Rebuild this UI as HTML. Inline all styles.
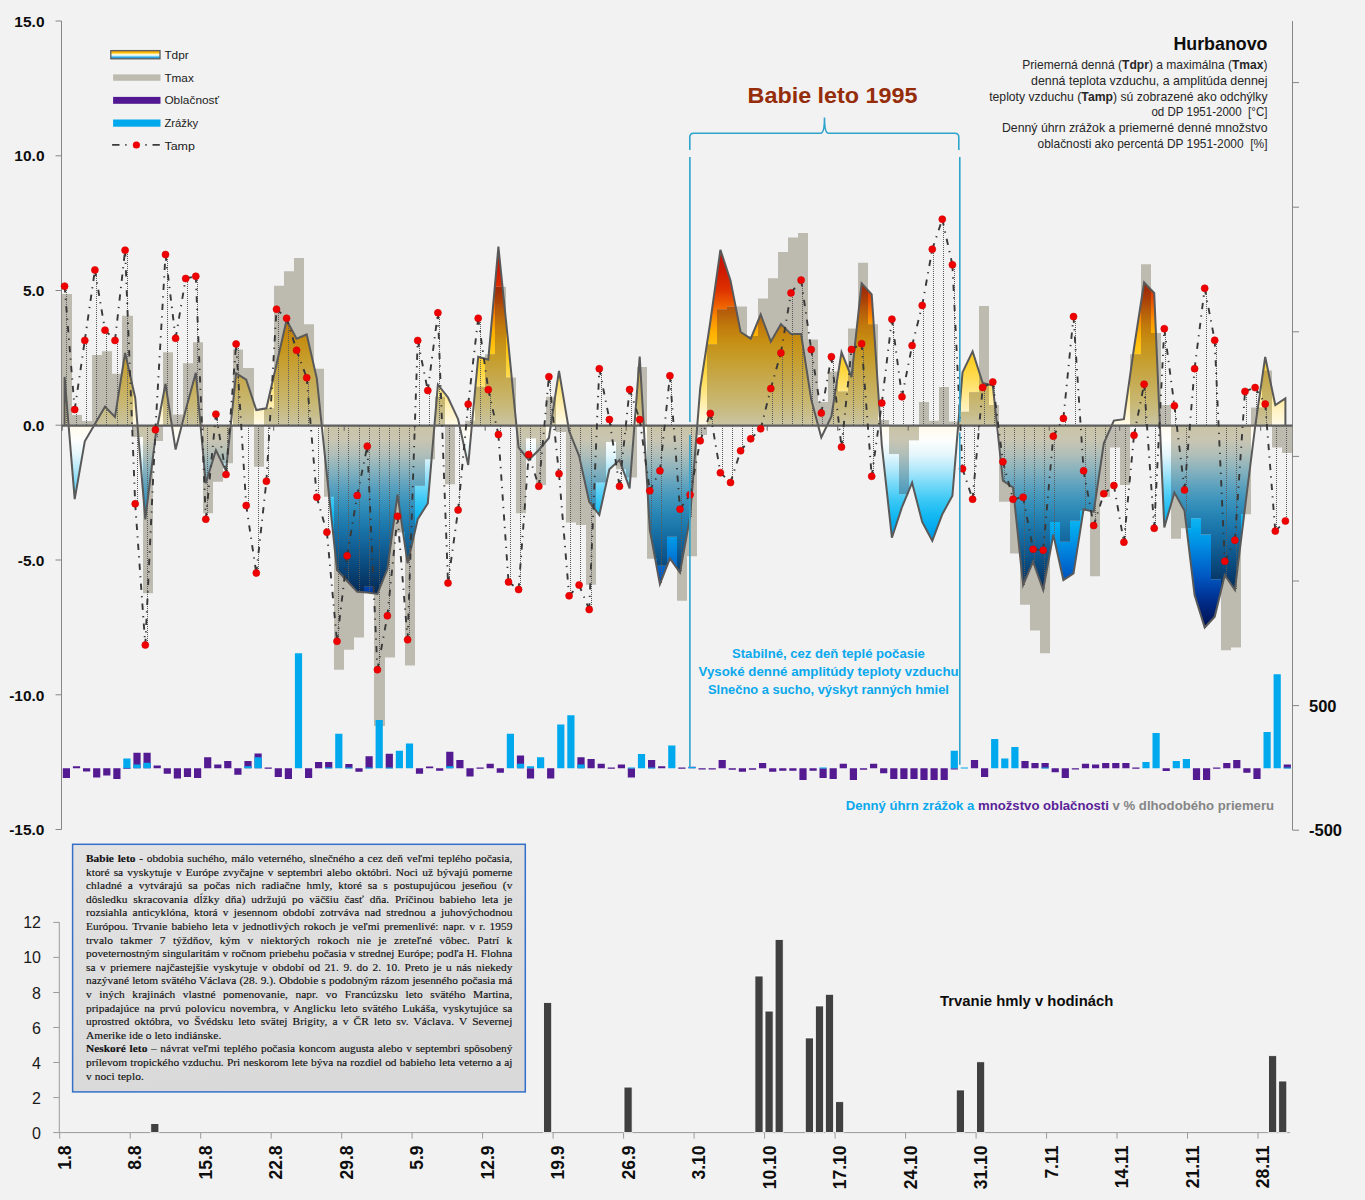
<!DOCTYPE html><html><head><meta charset="utf-8"><title>Babie leto 1995 - Hurbanovo</title>
<style>html,body{margin:0;padding:0;background:#f2f2f2;}svg{display:block}.s{font-family:"Liberation Sans",Arial,sans-serif}.b{font-family:"Liberation Sans",Arial,sans-serif;font-weight:bold}#tb{position:absolute;left:73px;top:845px;width:452px;height:247px;box-sizing:border-box;font-family:"Liberation Serif","Times New Roman",serif;font-size:11.4px;line-height:13.6px;color:#111;-webkit-text-stroke:0.15px #111;padding:7px 0 0 13px}#tb div{width:426.4px;text-align:justify;text-align-last:justify;white-space:nowrap;height:13.6px}#tb div.l{text-align-last:left}</style></head><body>
<div style="position:relative;width:1365px;height:1200px;overflow:hidden">
<svg width="1365" height="1200" viewBox="0 0 1365 1200">
<defs><linearGradient id="tg" gradientUnits="userSpaceOnUse" x1="0" y1="240" x2="0" y2="660"><stop offset="0.0143" stop-color="rgb(195,15,0)"/><stop offset="0.0714" stop-color="rgb(205,25,0)"/><stop offset="0.1190" stop-color="rgb(222,50,0)"/><stop offset="0.1548" stop-color="rgb(238,95,0)"/><stop offset="0.1857" stop-color="rgb(250,140,0)"/><stop offset="0.2190" stop-color="rgb(255,175,0)"/><stop offset="0.2619" stop-color="rgb(255,198,20)"/><stop offset="0.3095" stop-color="rgb(255,214,60)"/><stop offset="0.3571" stop-color="rgb(255,229,125)"/><stop offset="0.4048" stop-color="rgb(255,242,195)"/><stop offset="0.4421" stop-color="rgb(255,250,235)"/><stop offset="0.4762" stop-color="rgb(253,254,252)"/><stop offset="0.5119" stop-color="rgb(228,246,252)"/><stop offset="0.5476" stop-color="rgb(175,232,250)"/><stop offset="0.5833" stop-color="rgb(115,216,248)"/><stop offset="0.6190" stop-color="rgb(60,200,245)"/><stop offset="0.6548" stop-color="rgb(20,185,242)"/><stop offset="0.6905" stop-color="rgb(0,166,236)"/><stop offset="0.7262" stop-color="rgb(0,142,226)"/><stop offset="0.7619" stop-color="rgb(0,115,212)"/><stop offset="0.7976" stop-color="rgb(0,90,195)"/><stop offset="0.8333" stop-color="rgb(0,62,165)"/><stop offset="0.8690" stop-color="rgb(0,40,128)"/><stop offset="0.9048" stop-color="rgb(0,25,95)"/><stop offset="0.9405" stop-color="rgb(0,15,70)"/></linearGradient><linearGradient id="tgc" gradientUnits="userSpaceOnUse" x1="0" y1="240" x2="0" y2="660"><stop offset="0.0143" stop-color="rgb(150,20,5)"/><stop offset="0.1190" stop-color="rgb(160,45,8)"/><stop offset="0.1429" stop-color="rgb(170,65,8)"/><stop offset="0.1667" stop-color="rgb(180,90,10)"/><stop offset="0.2024" stop-color="rgb(192,120,12)"/><stop offset="0.2381" stop-color="rgb(198,142,18)"/><stop offset="0.2857" stop-color="rgb(198,158,45)"/><stop offset="0.3333" stop-color="rgb(198,170,80)"/><stop offset="0.3810" stop-color="rgb(200,182,110)"/><stop offset="0.4167" stop-color="rgb(200,190,140)"/><stop offset="0.4421" stop-color="rgb(202,196,165)"/><stop offset="0.4762" stop-color="rgb(200,197,178)"/><stop offset="0.5119" stop-color="rgb(175,190,185)"/><stop offset="0.5476" stop-color="rgb(135,178,190)"/><stop offset="0.5833" stop-color="rgb(95,162,190)"/><stop offset="0.6190" stop-color="rgb(60,148,188)"/><stop offset="0.6548" stop-color="rgb(38,132,180)"/><stop offset="0.6905" stop-color="rgb(25,115,168)"/><stop offset="0.7262" stop-color="rgb(18,98,152)"/><stop offset="0.7619" stop-color="rgb(12,80,132)"/><stop offset="0.7976" stop-color="rgb(8,62,112)"/><stop offset="0.8333" stop-color="rgb(5,45,90)"/><stop offset="0.8690" stop-color="rgb(3,32,72)"/><stop offset="0.9048" stop-color="rgb(2,22,58)"/><stop offset="0.9405" stop-color="rgb(0,15,45)"/><stop offset="0.9762" stop-color="rgb(0,10,35)"/></linearGradient>
<linearGradient id="lg" x1="0" y1="0" x2="0" y2="1"><stop offset="0" stop-color="#f39200"/><stop offset="0.22" stop-color="#ffb800"/><stop offset="0.4" stop-color="#ffe680"/><stop offset="0.5" stop-color="#fffdf2"/><stop offset="0.62" stop-color="#c8eefa"/><stop offset="0.8" stop-color="#30b0ea"/><stop offset="1" stop-color="#1678c0"/></linearGradient>
<linearGradient id="boxg" x1="0" y1="0" x2="0.3" y2="1"><stop offset="0" stop-color="#e3e3e3"/><stop offset="1" stop-color="#d9d9d9"/></linearGradient>
</defs>
<rect x="0" y="0" width="1365" height="1200" fill="#f2f2f2"/>
<clipPath id="bc"><path d="M62 294H72V425.7H62zM72 415H82V425.7H72zM82 421H92V425.7H82zM92 355H102V425.7H92zM102 351.3H112V425.7H102zM112 373.8H122V425.7H112zM122 315.8H133V425.7H122zM133 425.7H143V437H133zM143 425.7H153V593.3H143zM153 425.7H163V441H153zM163 352.3H173V425.7H163zM173 414.4H183V425.7H173zM183 363.3H193V425.7H183zM193 342.2H203V425.7H193zM203 425.7H213V513.3H203zM213 425.7H223V481.7H213zM223 425.7H233V463.3H223zM233 349.5H243V425.7H233zM243 368H254V425.7H243zM254 425.7H264V466.7H254zM264 408.3H274V425.7H264zM274 285.8H284V425.7H274zM284 271.2H294V425.7H284zM294 258H304V425.7H294zM304 324.2H314V425.7H304zM314 368.8H324V425.7H314zM324 425.7H334V496.7H324zM334 425.7H344V669.7H334zM344 425.7H354V649.7H344zM354 425.7H364V637.5H354zM364 425.7H374V586.7H364zM374 425.7H385V726H374zM385 425.7H395V657.5H385zM395 425.7H405V532.5H395zM405 425.7H415V665.5H405zM415 425.7H425V485.8H415zM425 425.7H435V459.2H425zM435 396.7H445V425.7H435zM445 425.7H455V484.2H445zM465 420.8H475V425.7H465zM475 386.7H485V425.7H475zM485 354.2H495V425.7H485zM495 286.7H506V425.7H495zM506 377.5H516V425.7H506zM516 425.7H526V513.3H516zM526 425.7H536V438.3H526zM536 425.7H546V485H536zM546 396.7H556V425.7H546zM556 425.7H566V432H556zM566 425.7H576V522.5H566zM576 425.7H586V525H576zM586 425.7H596V584.7H586zM596 425.7H606V482.5H596zM606 425.7H616V441.7H606zM616 425.7H626V469.2H616zM626 425.7H637V477.5H626zM637 367H647V425.7H637zM647 425.7H657V558.7H647zM657 425.7H667V565.8H657zM667 425.7H677V536.7H667zM677 425.7H687V600.8H677zM687 425.7H697V556.3H687zM697 425.7H707V435H697zM707 344.3H717V425.7H707zM717 309.3H727V425.7H717zM727 306.6H737V425.7H727zM737 306.6H747V425.7H737zM747 336H758V425.7H747zM758 298.4H768V425.7H758zM768 278.2H778V425.7H768zM778 252.1H788V425.7H778zM788 237.4H798V425.7H788zM798 233H808V425.7H798zM808 339.5H818V425.7H808zM818 402.1H828V425.7H818zM828 371.5H838V425.7H828zM838 391.6H848V425.7H838zM848 328.4H858V425.7H848zM858 262.8H868V425.7H858zM868 324.2H878V425.7H868zM878 420H889V425.7H878zM889 425.7H899V454H889zM899 425.7H909V494.2H899zM909 425.7H919V440.3H909zM919 402.1H929V425.7H919zM929 420.8H939V425.7H929zM939 386.9H949V425.7H939zM949 421.5H959V425.7H949zM959 411.7H969V425.7H959zM969 392.2H979V425.7H969zM979 306H989V425.7H979zM989 405H999V425.7H989zM999 425.7H1010V501.7H999zM1010 425.7H1020V553.5H1010zM1020 425.7H1030V604.8H1020zM1030 425.7H1040V630.5H1030zM1040 425.7H1050V653.3H1040zM1050 425.7H1060V522H1050zM1060 425.7H1070V541.7H1060zM1070 425.7H1080V520.8H1070zM1080 425.7H1090V510.8H1080zM1090 425.7H1100V576.3H1090zM1100 425.7H1110V496.7H1100zM1110 425.7H1120V447.5H1110zM1120 425.7H1130V485H1120zM1130 354.2H1141V425.7H1130zM1141 264.2H1151V425.7H1141zM1151 333H1161V425.7H1151zM1161 405H1171V425.7H1161zM1171 425.7H1181V538.8H1171zM1181 425.7H1191V528.3H1181zM1191 425.7H1201V518.3H1191zM1201 425.7H1211V534.6H1201zM1211 425.7H1221V579.2H1211zM1221 425.7H1231V650.3H1221zM1231 425.7H1241V647.5H1231zM1241 425.7H1251V514.2H1241zM1251 407.4H1262V425.7H1251zM1262 370.4H1272V425.7H1262zM1272 425.7H1282V447.6H1272zM1282 425.7H1292V453H1282z"/></clipPath>
<mask id="nb" maskUnits="userSpaceOnUse" x="0" y="0" width="1365" height="1200"><rect x="0" y="0" width="1365" height="1200" fill="#fff"/><path d="M62 294H72V425.7H62zM72 415H82V425.7H72zM82 421H92V425.7H82zM92 355H102V425.7H92zM102 351.3H112V425.7H102zM112 373.8H122V425.7H112zM122 315.8H133V425.7H122zM133 425.7H143V437H133zM143 425.7H153V593.3H143zM153 425.7H163V441H153zM163 352.3H173V425.7H163zM173 414.4H183V425.7H173zM183 363.3H193V425.7H183zM193 342.2H203V425.7H193zM203 425.7H213V513.3H203zM213 425.7H223V481.7H213zM223 425.7H233V463.3H223zM233 349.5H243V425.7H233zM243 368H254V425.7H243zM254 425.7H264V466.7H254zM264 408.3H274V425.7H264zM274 285.8H284V425.7H274zM284 271.2H294V425.7H284zM294 258H304V425.7H294zM304 324.2H314V425.7H304zM314 368.8H324V425.7H314zM324 425.7H334V496.7H324zM334 425.7H344V669.7H334zM344 425.7H354V649.7H344zM354 425.7H364V637.5H354zM364 425.7H374V586.7H364zM374 425.7H385V726H374zM385 425.7H395V657.5H385zM395 425.7H405V532.5H395zM405 425.7H415V665.5H405zM415 425.7H425V485.8H415zM425 425.7H435V459.2H425zM435 396.7H445V425.7H435zM445 425.7H455V484.2H445zM465 420.8H475V425.7H465zM475 386.7H485V425.7H475zM485 354.2H495V425.7H485zM495 286.7H506V425.7H495zM506 377.5H516V425.7H506zM516 425.7H526V513.3H516zM526 425.7H536V438.3H526zM536 425.7H546V485H536zM546 396.7H556V425.7H546zM556 425.7H566V432H556zM566 425.7H576V522.5H566zM576 425.7H586V525H576zM586 425.7H596V584.7H586zM596 425.7H606V482.5H596zM606 425.7H616V441.7H606zM616 425.7H626V469.2H616zM626 425.7H637V477.5H626zM637 367H647V425.7H637zM647 425.7H657V558.7H647zM657 425.7H667V565.8H657zM667 425.7H677V536.7H667zM677 425.7H687V600.8H677zM687 425.7H697V556.3H687zM697 425.7H707V435H697zM707 344.3H717V425.7H707zM717 309.3H727V425.7H717zM727 306.6H737V425.7H727zM737 306.6H747V425.7H737zM747 336H758V425.7H747zM758 298.4H768V425.7H758zM768 278.2H778V425.7H768zM778 252.1H788V425.7H778zM788 237.4H798V425.7H788zM798 233H808V425.7H798zM808 339.5H818V425.7H808zM818 402.1H828V425.7H818zM828 371.5H838V425.7H828zM838 391.6H848V425.7H838zM848 328.4H858V425.7H848zM858 262.8H868V425.7H858zM868 324.2H878V425.7H868zM878 420H889V425.7H878zM889 425.7H899V454H889zM899 425.7H909V494.2H899zM909 425.7H919V440.3H909zM919 402.1H929V425.7H919zM929 420.8H939V425.7H929zM939 386.9H949V425.7H939zM949 421.5H959V425.7H949zM959 411.7H969V425.7H959zM969 392.2H979V425.7H969zM979 306H989V425.7H979zM989 405H999V425.7H989zM999 425.7H1010V501.7H999zM1010 425.7H1020V553.5H1010zM1020 425.7H1030V604.8H1020zM1030 425.7H1040V630.5H1030zM1040 425.7H1050V653.3H1040zM1050 425.7H1060V522H1050zM1060 425.7H1070V541.7H1060zM1070 425.7H1080V520.8H1070zM1080 425.7H1090V510.8H1080zM1090 425.7H1100V576.3H1090zM1100 425.7H1110V496.7H1100zM1110 425.7H1120V447.5H1110zM1120 425.7H1130V485H1120zM1130 354.2H1141V425.7H1130zM1141 264.2H1151V425.7H1141zM1151 333H1161V425.7H1151zM1161 405H1171V425.7H1161zM1171 425.7H1181V538.8H1171zM1181 425.7H1191V528.3H1181zM1191 425.7H1201V518.3H1191zM1201 425.7H1211V534.6H1201zM1211 425.7H1221V579.2H1211zM1221 425.7H1231V650.3H1221zM1231 425.7H1241V647.5H1231zM1241 425.7H1251V514.2H1241zM1251 407.4H1262V425.7H1251zM1262 370.4H1272V425.7H1262zM1272 425.7H1282V447.6H1272zM1282 425.7H1292V453H1282z" fill="#000"/></mask>
<path d="M62 294H72V425.7H62zM72 415H82V425.7H72zM82 421H92V425.7H82zM92 355H102V425.7H92zM102 351.3H112V425.7H102zM112 373.8H122V425.7H112zM122 315.8H133V425.7H122zM133 425.7H143V437H133zM143 425.7H153V593.3H143zM153 425.7H163V441H153zM163 352.3H173V425.7H163zM173 414.4H183V425.7H173zM183 363.3H193V425.7H183zM193 342.2H203V425.7H193zM203 425.7H213V513.3H203zM213 425.7H223V481.7H213zM223 425.7H233V463.3H223zM233 349.5H243V425.7H233zM243 368H254V425.7H243zM254 425.7H264V466.7H254zM264 408.3H274V425.7H264zM274 285.8H284V425.7H274zM284 271.2H294V425.7H284zM294 258H304V425.7H294zM304 324.2H314V425.7H304zM314 368.8H324V425.7H314zM324 425.7H334V496.7H324zM334 425.7H344V669.7H334zM344 425.7H354V649.7H344zM354 425.7H364V637.5H354zM364 425.7H374V586.7H364zM374 425.7H385V726H374zM385 425.7H395V657.5H385zM395 425.7H405V532.5H395zM405 425.7H415V665.5H405zM415 425.7H425V485.8H415zM425 425.7H435V459.2H425zM435 396.7H445V425.7H435zM445 425.7H455V484.2H445zM465 420.8H475V425.7H465zM475 386.7H485V425.7H475zM485 354.2H495V425.7H485zM495 286.7H506V425.7H495zM506 377.5H516V425.7H506zM516 425.7H526V513.3H516zM526 425.7H536V438.3H526zM536 425.7H546V485H536zM546 396.7H556V425.7H546zM556 425.7H566V432H556zM566 425.7H576V522.5H566zM576 425.7H586V525H576zM586 425.7H596V584.7H586zM596 425.7H606V482.5H596zM606 425.7H616V441.7H606zM616 425.7H626V469.2H616zM626 425.7H637V477.5H626zM637 367H647V425.7H637zM647 425.7H657V558.7H647zM657 425.7H667V565.8H657zM667 425.7H677V536.7H667zM677 425.7H687V600.8H677zM687 425.7H697V556.3H687zM697 425.7H707V435H697zM707 344.3H717V425.7H707zM717 309.3H727V425.7H717zM727 306.6H737V425.7H727zM737 306.6H747V425.7H737zM747 336H758V425.7H747zM758 298.4H768V425.7H758zM768 278.2H778V425.7H768zM778 252.1H788V425.7H778zM788 237.4H798V425.7H788zM798 233H808V425.7H798zM808 339.5H818V425.7H808zM818 402.1H828V425.7H818zM828 371.5H838V425.7H828zM838 391.6H848V425.7H838zM848 328.4H858V425.7H848zM858 262.8H868V425.7H858zM868 324.2H878V425.7H868zM878 420H889V425.7H878zM889 425.7H899V454H889zM899 425.7H909V494.2H899zM909 425.7H919V440.3H909zM919 402.1H929V425.7H919zM929 420.8H939V425.7H929zM939 386.9H949V425.7H939zM949 421.5H959V425.7H949zM959 411.7H969V425.7H959zM969 392.2H979V425.7H969zM979 306H989V425.7H979zM989 405H999V425.7H989zM999 425.7H1010V501.7H999zM1010 425.7H1020V553.5H1010zM1020 425.7H1030V604.8H1020zM1030 425.7H1040V630.5H1030zM1040 425.7H1050V653.3H1040zM1050 425.7H1060V522H1050zM1060 425.7H1070V541.7H1060zM1070 425.7H1080V520.8H1070zM1080 425.7H1090V510.8H1080zM1090 425.7H1100V576.3H1090zM1100 425.7H1110V496.7H1100zM1110 425.7H1120V447.5H1110zM1120 425.7H1130V485H1120zM1130 354.2H1141V425.7H1130zM1141 264.2H1151V425.7H1141zM1151 333H1161V425.7H1151zM1161 405H1171V425.7H1161zM1171 425.7H1181V538.8H1171zM1181 425.7H1191V528.3H1181zM1191 425.7H1201V518.3H1191zM1201 425.7H1211V534.6H1201zM1211 425.7H1221V579.2H1211zM1221 425.7H1231V650.3H1221zM1231 425.7H1241V647.5H1231zM1241 425.7H1251V514.2H1241zM1251 407.4H1262V425.7H1251zM1262 370.4H1272V425.7H1262zM1272 425.7H1282V447.6H1272zM1282 425.7H1292V453H1282z" fill="#bdbbb0"/>
<polygon points="64.6,425.7 64.6,376.9 74.7,499.2 84.8,441.3 94.9,424 105,406.7 115,416.9 125.1,352.9 135.2,397.7 145.3,519.4 155.4,437 165.5,383.8 175.6,449.6 185.7,410 195.8,372.8 205.8,483.3 215.9,450.3 226,470.8 236.1,373.3 246.2,379.7 256.3,410 266.4,408.3 276.5,364.2 286.6,320 296.6,338.7 306.7,334.5 316.8,378.3 326.9,475 337,570 347.1,581 357.2,591.7 367.3,592.5 377.4,594 387.4,569 397.5,494.7 407.6,563.3 417.7,519.2 427.8,503.3 437.9,384.7 448,397.5 458.1,419.2 468.2,465 478.2,356.7 488.3,359.7 498.4,246.7 508.5,345 518.6,447.5 528.7,460 538.8,450 548.9,438 559,370.8 569.1,431 579.1,455.8 589.2,501.7 599.3,515 609.4,469.2 619.5,460 629.6,488.3 639.7,356.5 649.8,530 659.9,584.2 669.9,558.3 680,572.5 690.1,516.7 700.2,388 710.3,322 720.4,249.8 730.5,280.4 740.6,332 750.7,338.7 760.7,314.5 770.8,341.7 780.9,324.2 791,334.1 801.1,334.1 811.2,399.3 821.3,437.4 831.4,416.5 841.5,352.3 851.5,377.2 861.6,283.3 871.7,294.3 881.8,445 891.9,537.7 902,507 912.1,482.7 922.2,522 932.3,540.8 942.3,514.2 952.4,495.8 962.5,372.4 972.6,351.4 982.7,383 992.8,385.5 1002.9,480.8 1013,487.5 1023.1,585 1033.1,561.7 1043.2,590 1053.3,534.6 1063.4,580 1073.5,573.3 1083.6,509.2 1093.7,511.7 1103.8,443.3 1113.9,420.6 1123.9,419.2 1134,348 1144.1,282.5 1154.2,293 1164.3,527.5 1174.4,492.5 1184.5,510.8 1194.6,595 1204.7,627.5 1214.7,616.7 1224.8,575 1234.9,590 1245,507.8 1255.1,427 1265.2,357 1275.3,405 1285.4,398.4 1285.4,425.7" fill="url(#tg)" mask="url(#nb)"/>
<polygon points="64.6,425.7 64.6,376.9 74.7,499.2 84.8,441.3 94.9,424 105,406.7 115,416.9 125.1,352.9 135.2,397.7 145.3,519.4 155.4,437 165.5,383.8 175.6,449.6 185.7,410 195.8,372.8 205.8,483.3 215.9,450.3 226,470.8 236.1,373.3 246.2,379.7 256.3,410 266.4,408.3 276.5,364.2 286.6,320 296.6,338.7 306.7,334.5 316.8,378.3 326.9,475 337,570 347.1,581 357.2,591.7 367.3,592.5 377.4,594 387.4,569 397.5,494.7 407.6,563.3 417.7,519.2 427.8,503.3 437.9,384.7 448,397.5 458.1,419.2 468.2,465 478.2,356.7 488.3,359.7 498.4,246.7 508.5,345 518.6,447.5 528.7,460 538.8,450 548.9,438 559,370.8 569.1,431 579.1,455.8 589.2,501.7 599.3,515 609.4,469.2 619.5,460 629.6,488.3 639.7,356.5 649.8,530 659.9,584.2 669.9,558.3 680,572.5 690.1,516.7 700.2,388 710.3,322 720.4,249.8 730.5,280.4 740.6,332 750.7,338.7 760.7,314.5 770.8,341.7 780.9,324.2 791,334.1 801.1,334.1 811.2,399.3 821.3,437.4 831.4,416.5 841.5,352.3 851.5,377.2 861.6,283.3 871.7,294.3 881.8,445 891.9,537.7 902,507 912.1,482.7 922.2,522 932.3,540.8 942.3,514.2 952.4,495.8 962.5,372.4 972.6,351.4 982.7,383 992.8,385.5 1002.9,480.8 1013,487.5 1023.1,585 1033.1,561.7 1043.2,590 1053.3,534.6 1063.4,580 1073.5,573.3 1083.6,509.2 1093.7,511.7 1103.8,443.3 1113.9,420.6 1123.9,419.2 1134,348 1144.1,282.5 1154.2,293 1164.3,527.5 1174.4,492.5 1184.5,510.8 1194.6,595 1204.7,627.5 1214.7,616.7 1224.8,575 1234.9,590 1245,507.8 1255.1,427 1265.2,357 1275.3,405 1285.4,398.4 1285.4,425.7" fill="url(#tgc)" clip-path="url(#bc)"/>
<path d="M66.5 286V426M76.5 410V426M86.5 340V426M96.5 270V426M106.5 330V426M117.5 340V426M127.5 250V426M137.5 426V504M147.5 426V645M157.5 426V437M167.5 255V426M177.5 338V426M187.5 278V426M197.5 276V426M207.5 426V519M217.5 414V426M227.5 426V474M238.5 344V426M248.5 426V506M258.5 426V573M268.5 426V481M278.5 309V426M288.5 318V426M298.5 350V426M308.5 378V426M318.5 426V497M328.5 426V532M338.5 426V641M348.5 426V581M359.5 426V592M369.5 426V592M379.5 426V670M389.5 426V616M399.5 426V516M409.5 426V640M419.5 340V426M429.5 390V426M439.5 313V426M449.5 426V583M459.5 426V510M470.5 404V426M480.5 318V426M490.5 390V426M500.5 426V434M510.5 426V582M520.5 426V590M530.5 426V460M540.5 426V486M550.5 377V426M560.5 426V474M570.5 426V596M580.5 426V585M591.5 426V610M601.5 369V426M611.5 420V426M621.5 426V486M631.5 390V426M641.5 420V426M651.5 426V530M661.5 426V584M671.5 376V426M681.5 426V572M691.5 426V517M701.5 426V441M712.5 413V426M722.5 426V473M732.5 426V482M742.5 426V451M752.5 426V439M762.5 426V429M772.5 389V426M782.5 353V426M792.5 293V426M802.5 280V426M812.5 350V426M822.5 413V426M833.5 357V426M843.5 426V447M853.5 350V426M863.5 344V426M873.5 426V476M883.5 403V426M893.5 319V426M903.5 397V426M913.5 346V426M923.5 305V426M933.5 249V426M943.5 219V426M954.5 265V426M964.5 426V469M974.5 426V499M984.5 387V426M994.5 382V426M1004.5 426V481M1014.5 426V499M1024.5 426V585M1034.5 426V562M1044.5 426V590M1054.5 426V535M1065.5 418V426M1075.5 317V426M1085.5 426V509M1095.5 426V526M1105.5 426V494M1115.5 426V486M1125.5 426V542M1135.5 426V435M1145.5 384V426M1155.5 426V528M1165.5 329V426M1175.5 406V426M1186.5 426V511M1196.5 369V426M1206.5 288V426M1216.5 340V426M1226.5 426V575M1236.5 426V590M1246.5 391V426M1256.5 388V426M1266.5 404V426M1276.5 426V531M1286.5 426V521" stroke="#5a5a5a" stroke-width="1" stroke-dasharray="1 1" fill="none"/>
<polyline points="64.6,425.7 64.6,376.9 74.7,499.2 84.8,441.3 94.9,424 105,406.7 115,416.9 125.1,352.9 135.2,397.7 145.3,519.4 155.4,437 165.5,383.8 175.6,449.6 185.7,410 195.8,372.8 205.8,483.3 215.9,450.3 226,470.8 236.1,373.3 246.2,379.7 256.3,410 266.4,408.3 276.5,364.2 286.6,320 296.6,338.7 306.7,334.5 316.8,378.3 326.9,475 337,570 347.1,581 357.2,591.7 367.3,592.5 377.4,594 387.4,569 397.5,494.7 407.6,563.3 417.7,519.2 427.8,503.3 437.9,384.7 448,397.5 458.1,419.2 468.2,465 478.2,356.7 488.3,359.7 498.4,246.7 508.5,345 518.6,447.5 528.7,460 538.8,450 548.9,438 559,370.8 569.1,431 579.1,455.8 589.2,501.7 599.3,515 609.4,469.2 619.5,460 629.6,488.3 639.7,356.5 649.8,530 659.9,584.2 669.9,558.3 680,572.5 690.1,516.7 700.2,388 710.3,322 720.4,249.8 730.5,280.4 740.6,332 750.7,338.7 760.7,314.5 770.8,341.7 780.9,324.2 791,334.1 801.1,334.1 811.2,399.3 821.3,437.4 831.4,416.5 841.5,352.3 851.5,377.2 861.6,283.3 871.7,294.3 881.8,445 891.9,537.7 902,507 912.1,482.7 922.2,522 932.3,540.8 942.3,514.2 952.4,495.8 962.5,372.4 972.6,351.4 982.7,383 992.8,385.5 1002.9,480.8 1013,487.5 1023.1,585 1033.1,561.7 1043.2,590 1053.3,534.6 1063.4,580 1073.5,573.3 1083.6,509.2 1093.7,511.7 1103.8,443.3 1113.9,420.6 1123.9,419.2 1134,348 1144.1,282.5 1154.2,293 1164.3,527.5 1174.4,492.5 1184.5,510.8 1194.6,595 1204.7,627.5 1214.7,616.7 1224.8,575 1234.9,590 1245,507.8 1255.1,427 1265.2,357 1275.3,405 1285.4,398.4 1285.4,425.7" fill="none" stroke="#595959" stroke-width="2" stroke-linejoin="miter" stroke-miterlimit="4"/>
<g stroke="#868686" stroke-width="1" fill="none">
<path d="M61.5 21V829.5"/>
<path d="M55.5 21H61.5"/>
<path d="M55.5 155.8H61.5"/>
<path d="M55.5 290.5H61.5"/>
<path d="M55.5 425.2H61.5"/>
<path d="M55.5 560H61.5"/>
<path d="M55.5 694.8H61.5"/>
<path d="M55.5 829.5H61.5"/>
<path d="M1292.5 21V830"/>
<path d="M1292.5 830.2H1299"/>
<path d="M1292.5 705.6H1299"/>
<path d="M1292.5 581H1299"/>
<path d="M1292.5 456.4H1299"/>
<path d="M1292.5 331.8H1299"/>
<path d="M1292.5 207.2H1299"/>
<path d="M1292.5 82.6H1299"/>
</g>
<path d="M61.5 425.7H1292.5" stroke="#5f5f5f" stroke-width="2.2"/>
<path d="M62.2 425.7v5M132.7 425.7v5M203.2 425.7v5M273.7 425.7v5M344.2 425.7v5M414.7 425.7v5M485.2 425.7v5M555.7 425.7v5M626.2 425.7v5M696.7 425.7v5M767.2 425.7v5M837.7 425.7v5M908.2 425.7v5M978.7 425.7v5M1049.2 425.7v5M1119.7 425.7v5M1190.2 425.7v5M1260.7 425.7v5" stroke="#5f5f5f" stroke-width="1"/>
<path d="M64.6 286.2L74.7 409.6M74.7 409.6L84.8 340.4M84.8 340.4L94.9 270M94.9 270L105 330.2M105 330.2L115 340.4M115 340.4L125.1 250.2M125.1 250.2L135.2 503.8M135.2 503.8L145.3 645M145.3 645L155.4 429.8M155.4 429.8L165.5 254.6M165.5 254.6L175.6 338.3M175.6 338.3L185.7 278.5M185.7 278.5L195.8 276.3M195.8 276.3L205.8 519.2M205.8 519.2L215.9 414.2M215.9 414.2L226 474.5M226 474.5L236.1 344M236.1 344L246.2 505.5M246.2 505.5L256.3 573M256.3 573L266.4 481.2M266.4 481.2L276.5 309.2M276.5 309.2L286.6 318.3M286.6 318.3L296.6 350.3M296.6 350.3L306.7 377.7M306.7 377.7L316.8 497.2M316.8 497.2L326.9 532.2M326.9 532.2L337 641.3M337 641.3L347.1 555.8M347.1 555.8L357.2 495.5M357.2 495.5L367.3 446.2M367.3 446.2L377.4 669.7M377.4 669.7L387.4 615.8M387.4 615.8L397.5 516.3M397.5 516.3L407.6 639.7M407.6 639.7L417.7 340.5M417.7 340.5L427.8 390.5M427.8 390.5L437.9 312.8M437.9 312.8L448 583M448 583L458.1 510M458.1 510L468.2 404.2M468.2 404.2L478.2 318.3M478.2 318.3L488.3 389.7M488.3 389.7L498.4 434.5M498.4 434.5L508.5 582M508.5 582L518.6 589.5M518.6 589.5L528.7 454.5M528.7 454.5L538.8 486.3M538.8 486.3L548.9 376.7M548.9 376.7L559 473.7M559 473.7L569.1 595.8M569.1 595.8L579.1 585M579.1 585L589.2 609.5M589.2 609.5L599.3 368.7M599.3 368.7L609.4 419.5M609.4 419.5L619.5 486.3M619.5 486.3L629.6 389.5M629.6 389.5L639.7 419.6M639.7 419.6L649.8 490.8M649.8 490.8L659.9 470.8M659.9 470.8L669.9 375.8M669.9 375.8L680 509.2M680 509.2L690.1 494.7M690.1 494.7L700.2 440.8M700.2 440.8L710.3 413.4M710.3 413.4L720.4 472.8M720.4 472.8L730.5 482.5M730.5 482.5L740.6 450.8M740.6 450.8L750.7 438.8M750.7 438.8L760.7 428.8M760.7 428.8L770.8 388.6M770.8 388.6L780.9 352.9M780.9 352.9L791 292.9M791 292.9L801.1 280.1M801.1 280.1L811.2 349.5M811.2 349.5L821.3 413.1M821.3 413.1L831.4 356.7M831.4 356.7L841.5 447M841.5 447L851.5 349.5M851.5 349.5L861.6 343.7M861.6 343.7L871.7 476.3M871.7 476.3L881.8 403.1M881.8 403.1L891.9 319.2M891.9 319.2L902 396.8M902 396.8L912.1 345.6M912.1 345.6L922.2 305.4M922.2 305.4L932.3 249.2M932.3 249.2L942.3 219.2M942.3 219.2L952.4 264.8M952.4 264.8L962.5 468.8M962.5 468.8L972.6 499.2M972.6 499.2L982.7 387.4M982.7 387.4L992.8 382M992.8 382L1002.9 461.7M1002.9 461.7L1013 499.2M1013 499.2L1023.1 497.2M1023.1 497.2L1033.1 549.3M1033.1 549.3L1043.2 550.2M1043.2 550.2L1053.3 436.2M1053.3 436.2L1063.4 418.4M1063.4 418.4L1073.5 316.6M1073.5 316.6L1083.6 470.8M1083.6 470.8L1093.7 525.5M1093.7 525.5L1103.8 493.7M1103.8 493.7L1113.9 485.5M1113.9 485.5L1123.9 542.2M1123.9 542.2L1134 435.3M1134 435.3L1144.1 384.2M1144.1 384.2L1154.2 528.3M1154.2 528.3L1164.3 328.7M1164.3 328.7L1174.4 405.8M1174.4 405.8L1184.5 490M1184.5 490L1194.6 368.7M1194.6 368.7L1204.7 288.3M1204.7 288.3L1214.7 340.3M1214.7 340.3L1224.8 561.3M1224.8 561.3L1234.9 540.2M1234.9 540.2L1245 391.4M1245 391.4L1255.1 387.6M1255.1 387.6L1265.2 404M1265.2 404L1275.3 531.1M1275.3 531.1L1285.4 521" fill="none" stroke="#383838" stroke-width="1.9" stroke-dasharray="6.3 6.2 1.3 6.2"/>
<g fill="#f00000" stroke="#d40000" stroke-width="0.6">
<circle cx="64.6" cy="286.2" r="3.5"/>
<circle cx="74.7" cy="409.6" r="3.5"/>
<circle cx="84.8" cy="340.4" r="3.5"/>
<circle cx="94.9" cy="270" r="3.5"/>
<circle cx="105" cy="330.2" r="3.5"/>
<circle cx="115" cy="340.4" r="3.5"/>
<circle cx="125.1" cy="250.2" r="3.5"/>
<circle cx="135.2" cy="503.8" r="3.5"/>
<circle cx="145.3" cy="645" r="3.5"/>
<circle cx="155.4" cy="429.8" r="3.5"/>
<circle cx="165.5" cy="254.6" r="3.5"/>
<circle cx="175.6" cy="338.3" r="3.5"/>
<circle cx="185.7" cy="278.5" r="3.5"/>
<circle cx="195.8" cy="276.3" r="3.5"/>
<circle cx="205.8" cy="519.2" r="3.5"/>
<circle cx="215.9" cy="414.2" r="3.5"/>
<circle cx="226" cy="474.5" r="3.5"/>
<circle cx="236.1" cy="344" r="3.5"/>
<circle cx="246.2" cy="505.5" r="3.5"/>
<circle cx="256.3" cy="573" r="3.5"/>
<circle cx="266.4" cy="481.2" r="3.5"/>
<circle cx="276.5" cy="309.2" r="3.5"/>
<circle cx="286.6" cy="318.3" r="3.5"/>
<circle cx="296.6" cy="350.3" r="3.5"/>
<circle cx="306.7" cy="377.7" r="3.5"/>
<circle cx="316.8" cy="497.2" r="3.5"/>
<circle cx="326.9" cy="532.2" r="3.5"/>
<circle cx="337" cy="641.3" r="3.5"/>
<circle cx="347.1" cy="555.8" r="3.5"/>
<circle cx="357.2" cy="495.5" r="3.5"/>
<circle cx="367.3" cy="446.2" r="3.5"/>
<circle cx="377.4" cy="669.7" r="3.5"/>
<circle cx="387.4" cy="615.8" r="3.5"/>
<circle cx="397.5" cy="516.3" r="3.5"/>
<circle cx="407.6" cy="639.7" r="3.5"/>
<circle cx="417.7" cy="340.5" r="3.5"/>
<circle cx="427.8" cy="390.5" r="3.5"/>
<circle cx="437.9" cy="312.8" r="3.5"/>
<circle cx="448" cy="583" r="3.5"/>
<circle cx="458.1" cy="510" r="3.5"/>
<circle cx="468.2" cy="404.2" r="3.5"/>
<circle cx="478.2" cy="318.3" r="3.5"/>
<circle cx="488.3" cy="389.7" r="3.5"/>
<circle cx="498.4" cy="434.5" r="3.5"/>
<circle cx="508.5" cy="582" r="3.5"/>
<circle cx="518.6" cy="589.5" r="3.5"/>
<circle cx="528.7" cy="454.5" r="3.5"/>
<circle cx="538.8" cy="486.3" r="3.5"/>
<circle cx="548.9" cy="376.7" r="3.5"/>
<circle cx="559" cy="473.7" r="3.5"/>
<circle cx="569.1" cy="595.8" r="3.5"/>
<circle cx="579.1" cy="585" r="3.5"/>
<circle cx="589.2" cy="609.5" r="3.5"/>
<circle cx="599.3" cy="368.7" r="3.5"/>
<circle cx="609.4" cy="419.5" r="3.5"/>
<circle cx="619.5" cy="486.3" r="3.5"/>
<circle cx="629.6" cy="389.5" r="3.5"/>
<circle cx="639.7" cy="419.6" r="3.5"/>
<circle cx="649.8" cy="490.8" r="3.5"/>
<circle cx="659.9" cy="470.8" r="3.5"/>
<circle cx="669.9" cy="375.8" r="3.5"/>
<circle cx="680" cy="509.2" r="3.5"/>
<circle cx="690.1" cy="494.7" r="3.5"/>
<circle cx="700.2" cy="440.8" r="3.5"/>
<circle cx="710.3" cy="413.4" r="3.5"/>
<circle cx="720.4" cy="472.8" r="3.5"/>
<circle cx="730.5" cy="482.5" r="3.5"/>
<circle cx="740.6" cy="450.8" r="3.5"/>
<circle cx="750.7" cy="438.8" r="3.5"/>
<circle cx="760.7" cy="428.8" r="3.5"/>
<circle cx="770.8" cy="388.6" r="3.5"/>
<circle cx="780.9" cy="352.9" r="3.5"/>
<circle cx="791" cy="292.9" r="3.5"/>
<circle cx="801.1" cy="280.1" r="3.5"/>
<circle cx="811.2" cy="349.5" r="3.5"/>
<circle cx="821.3" cy="413.1" r="3.5"/>
<circle cx="831.4" cy="356.7" r="3.5"/>
<circle cx="841.5" cy="447" r="3.5"/>
<circle cx="851.5" cy="349.5" r="3.5"/>
<circle cx="861.6" cy="343.7" r="3.5"/>
<circle cx="871.7" cy="476.3" r="3.5"/>
<circle cx="881.8" cy="403.1" r="3.5"/>
<circle cx="891.9" cy="319.2" r="3.5"/>
<circle cx="902" cy="396.8" r="3.5"/>
<circle cx="912.1" cy="345.6" r="3.5"/>
<circle cx="922.2" cy="305.4" r="3.5"/>
<circle cx="932.3" cy="249.2" r="3.5"/>
<circle cx="942.3" cy="219.2" r="3.5"/>
<circle cx="952.4" cy="264.8" r="3.5"/>
<circle cx="962.5" cy="468.8" r="3.5"/>
<circle cx="972.6" cy="499.2" r="3.5"/>
<circle cx="982.7" cy="387.4" r="3.5"/>
<circle cx="992.8" cy="382" r="3.5"/>
<circle cx="1002.9" cy="461.7" r="3.5"/>
<circle cx="1013" cy="499.2" r="3.5"/>
<circle cx="1023.1" cy="497.2" r="3.5"/>
<circle cx="1033.1" cy="549.3" r="3.5"/>
<circle cx="1043.2" cy="550.2" r="3.5"/>
<circle cx="1053.3" cy="436.2" r="3.5"/>
<circle cx="1063.4" cy="418.4" r="3.5"/>
<circle cx="1073.5" cy="316.6" r="3.5"/>
<circle cx="1083.6" cy="470.8" r="3.5"/>
<circle cx="1093.7" cy="525.5" r="3.5"/>
<circle cx="1103.8" cy="493.7" r="3.5"/>
<circle cx="1113.9" cy="485.5" r="3.5"/>
<circle cx="1123.9" cy="542.2" r="3.5"/>
<circle cx="1134" cy="435.3" r="3.5"/>
<circle cx="1144.1" cy="384.2" r="3.5"/>
<circle cx="1154.2" cy="528.3" r="3.5"/>
<circle cx="1164.3" cy="328.7" r="3.5"/>
<circle cx="1174.4" cy="405.8" r="3.5"/>
<circle cx="1184.5" cy="490" r="3.5"/>
<circle cx="1194.6" cy="368.7" r="3.5"/>
<circle cx="1204.7" cy="288.3" r="3.5"/>
<circle cx="1214.7" cy="340.3" r="3.5"/>
<circle cx="1224.8" cy="561.3" r="3.5"/>
<circle cx="1234.9" cy="540.2" r="3.5"/>
<circle cx="1245" cy="391.4" r="3.5"/>
<circle cx="1255.1" cy="387.6" r="3.5"/>
<circle cx="1265.2" cy="404" r="3.5"/>
<circle cx="1275.3" cy="531.1" r="3.5"/>
<circle cx="1285.4" cy="521" r="3.5"/>
</g>
<path d="M62.8 768.2h7.2v9.9h-7.2zM72.9 766.2h7.2v2h-7.2zM83 768.2h7.2v3.3h-7.2zM93.1 768.2h7.2v9.2h-7.2zM103.2 768.2h7.2v7.2h-7.2zM113.3 768.2h7.2v10.9h-7.2zM123.3 767.6h7.2v1.2h-7.2zM133.4 752.8h7.2v15.4h-7.2zM143.5 752.8h7.2v15.4h-7.2zM153.6 765.5h7.2v2.7h-7.2zM163.7 768.2h7.2v5.5h-7.2zM173.8 768.2h7.2v10.3h-7.2zM183.9 768.2h7.2v8.8h-7.2zM194 768.2h7.2v9.9h-7.2zM204.1 757.3h7.2v10.9h-7.2zM214.2 764.5h7.2v3.7h-7.2zM224.2 761h7.2v7.2h-7.2zM234.3 768.2h7.2v6.6h-7.2zM244.4 761h7.2v7.2h-7.2zM254.5 753.4h7.2v14.8h-7.2zM264.6 767.6h7.2v1.2h-7.2zM274.7 768.2h7.2v8.8h-7.2zM284.8 768.2h7.2v10.9h-7.2zM305 768.2h7.2v9.9h-7.2zM315 762h7.2v6.2h-7.2zM325.1 762h7.2v6.2h-7.2zM345.3 763.9h7.2v4.3h-7.2zM355.4 768.2h7.2v3.5h-7.2zM365.5 756.3h7.2v11.9h-7.2zM385.7 753.8h7.2v14.4h-7.2zM415.9 768.2h7.2v5.5h-7.2zM426 766.6h7.2v1.6h-7.2zM436.1 768.2h7.2v2.5h-7.2zM446.2 751.8h7.2v16.4h-7.2zM456.3 760h7.2v8.2h-7.2zM466.4 768.2h7.2v8.2h-7.2zM476.5 767.6h7.2v1.2h-7.2zM486.6 763.7h7.2v4.5h-7.2zM496.7 768.2h7.2v4.5h-7.2zM516.9 755.5h7.2v12.7h-7.2zM526.9 768.2h7.2v10.3h-7.2zM547.1 768.2h7.2v10.3h-7.2zM577.4 757.3h7.2v10.9h-7.2zM587.5 759h7.2v9.2h-7.2zM597.6 763.7h7.2v4.5h-7.2zM607.7 767.6h7.2v1.2h-7.2zM617.8 764.5h7.2v3.7h-7.2zM627.8 768.2h7.2v9.2h-7.2zM648 760h7.2v8.2h-7.2zM658.1 766.2h7.2v2h-7.2zM678.3 767.6h7.2v1.2h-7.2zM688.4 766.8h7.2v1.4h-7.2zM698.5 768.2h7.2v1.4h-7.2zM708.6 768.2h7.2v1.4h-7.2zM718.6 760h7.2v8.2h-7.2zM728.7 768.2h7.2v1.6h-7.2zM738.8 768.2h7.2v3.5h-7.2zM748.9 768.2h7.2v1.6h-7.2zM759 763h7.2v5.2h-7.2zM769.1 768.2h7.2v3.5h-7.2zM779.2 768.2h7.2v2.5h-7.2zM789.3 768.2h7.2v2.5h-7.2zM799.4 768.2h7.2v11.8h-7.2zM809.5 768.2h7.2v2.5h-7.2zM819.5 768.2h7.2v9.9h-7.2zM829.6 768.2h7.2v10.7h-7.2zM839.7 763.7h7.2v4.5h-7.2zM849.8 768.2h7.2v11.8h-7.2zM859.9 768.2h7.2v1.6h-7.2zM870 763.7h7.2v4.5h-7.2zM880.1 768.2h7.2v5.1h-7.2zM890.2 768.2h7.2v10.9h-7.2zM900.3 768.2h7.2v10.9h-7.2zM910.4 768.2h7.2v10.9h-7.2zM920.4 768.2h7.2v11.8h-7.2zM930.5 768.2h7.2v11.8h-7.2zM940.6 768.2h7.2v11.8h-7.2zM950.7 768.2h7.2v1.4h-7.2zM970.9 760h7.2v8.2h-7.2zM981 768.2h7.2v8.8h-7.2zM1021.4 761h7.2v7.2h-7.2zM1031.4 763h7.2v5.2h-7.2zM1041.5 763h7.2v5.2h-7.2zM1051.6 768.2h7.2v4.1h-7.2zM1061.7 768.2h7.2v9.9h-7.2zM1071.8 768.2h7.2v1.4h-7.2zM1081.9 763.7h7.2v4.5h-7.2zM1092 764.5h7.2v3.7h-7.2zM1102.1 763h7.2v5.2h-7.2zM1112.2 763h7.2v5.2h-7.2zM1122.3 763h7.2v5.2h-7.2zM1132.3 767.6h7.2v1.2h-7.2zM1162.6 768.2h7.2v2.8h-7.2zM1192.9 768.2h7.2v11.8h-7.2zM1203 768.2h7.2v11.8h-7.2zM1213.1 767.6h7.2v1.2h-7.2zM1223.2 763h7.2v5.2h-7.2zM1233.2 760h7.2v8.2h-7.2zM1243.3 768.2h7.2v4.6h-7.2zM1253.4 768.2h7.2v10.9h-7.2zM1283.7 764.6h7.2v3.6h-7.2z" fill="#531a92"/>
<path d="M123.3 758.4h7.2v9.8h-7.2zM133.4 764.5h7.2v3.7h-7.2zM143.5 762.7h7.2v5.5h-7.2zM244.4 766.2h7.2v2h-7.2zM254.5 757.3h7.2v10.9h-7.2zM294.9 653.3h7.2v114.9h-7.2zM325.1 767.4h7.2v1.2h-7.2zM335.2 733.7h7.2v34.5h-7.2zM345.3 767.4h7.2v1.2h-7.2zM365.5 767.4h7.2v1.2h-7.2zM375.6 720h7.2v48.2h-7.2zM385.7 767.4h7.2v1.2h-7.2zM395.8 750.8h7.2v17.4h-7.2zM405.9 743.6h7.2v24.6h-7.2zM446.2 766.2h7.2v2h-7.2zM506.8 733.7h7.2v34.5h-7.2zM516.9 763.7h7.2v4.5h-7.2zM526.9 766.2h7.2v2h-7.2zM537 757.3h7.2v10.9h-7.2zM557.2 724.5h7.2v43.7h-7.2zM567.3 715.3h7.2v52.9h-7.2zM577.4 764.5h7.2v3.7h-7.2zM627.8 767.4h7.2v1.2h-7.2zM637.9 754h7.2v14.2h-7.2zM648 767.4h7.2v1.2h-7.2zM668.2 745.6h7.2v22.6h-7.2zM688.4 767h7.2v1.2h-7.2zM819.5 767.4h7.2v1.2h-7.2zM950.7 750.8h7.2v17.4h-7.2zM960.8 767.4h7.2v1.2h-7.2zM991.1 739.1h7.2v29.1h-7.2zM1001.2 758.4h7.2v9.8h-7.2zM1011.3 747.1h7.2v21.1h-7.2zM1041.5 767.4h7.2v1.2h-7.2zM1142.4 762h7.2v6.2h-7.2zM1152.5 733h7.2v35.2h-7.2zM1172.7 761h7.2v7.2h-7.2zM1182.8 759.1h7.2v9.1h-7.2zM1263.5 731.9h7.2v36.3h-7.2zM1273.6 674.3h7.2v93.9h-7.2zM1283.7 767.4h7.2v1.2h-7.2z" fill="#00a9ee"/>
<g stroke="#2ea3cc" stroke-width="1.6" fill="none">
<path d="M689.8 150V137.3Q689.8 133.3 693.8 133.3H820.5Q824.5 133.3 824.5 117.5Q824.5 133.3 828.5 133.3H954.8Q958.8 133.3 958.8 137.3V150"/>
<path d="M689.9 157V422M689.9 435V767.2"/><path d="M959.8 157V422M959.8 432.5V764.7"/>
</g>
<g class="b" font-size="15.5" fill="#0d0d0d" text-anchor="end">
<text x="44.5" y="26.7">15.0</text>
<text x="44.5" y="161.4">10.0</text>
<text x="44.5" y="296.2">5.0</text>
<text x="44.5" y="430.9">0.0</text>
<text x="44.5" y="565.7">-5.0</text>
<text x="44.5" y="700.5">-10.0</text>
<text x="44.5" y="835.2">-15.0</text>
</g>
<g class="b" font-size="16.5" fill="#0d0d0d">
<text x="1309" y="711.8">500</text><text x="1309" y="835.6">-500</text>
</g>
<rect x="110.8" y="50.6" width="49.2" height="8.2" fill="url(#lg)" stroke="#5f5f5f" stroke-width="1.3"/>
<rect x="113.1" y="74.4" width="47.4" height="6.4" fill="#bdbbb0"/>
<rect x="113.1" y="96.9" width="47.4" height="6.9" fill="#521891"/>
<rect x="113.1" y="119.5" width="47.4" height="7.2" fill="#00a9ee"/>
<path d="M112.1 144.9H119.5M125.2 144.9H126.6M145.3 144.9H146.7M152.5 144.9H159.8" stroke="#3c3c3c" stroke-width="1.8"/>
<circle cx="136.4" cy="145" r="3.6" fill="#f00000"/>
<g class="s" font-size="11.5" fill="#1a1a1a">
<text x="164.4" y="59" textLength="24.3" lengthAdjust="spacingAndGlyphs">Tdpr</text>
<text x="164.4" y="81.8" textLength="29.4" lengthAdjust="spacingAndGlyphs">Tmax</text>
<text x="164.4" y="103.9" textLength="54.6" lengthAdjust="spacingAndGlyphs">Oblačnosť</text>
<text x="164.4" y="126.8" textLength="33.8" lengthAdjust="spacingAndGlyphs">Zrážky</text>
<text x="164.4" y="149.5" textLength="30.5" lengthAdjust="spacingAndGlyphs">Tamp</text>
</g>
<text class="b" x="1267.5" y="49.6" font-size="19" text-anchor="end" fill="#0d0d0d" textLength="94.1" lengthAdjust="spacingAndGlyphs">Hurbanovo</text>
<text class="s" x="1022.2" y="68.5" font-size="12.2" fill="#262626" textLength="245.3" lengthAdjust="spacingAndGlyphs" xml:space="preserve"><tspan>Priemerná denná (</tspan><tspan font-weight="bold">Tdpr</tspan><tspan>) a maximálna (</tspan><tspan font-weight="bold">Tmax</tspan><tspan>)</tspan></text>
<text class="s" x="1031" y="84.8" font-size="12.2" fill="#262626" textLength="236.5" lengthAdjust="spacingAndGlyphs" xml:space="preserve"><tspan>denná teplota vzduchu, a amplitúda dennej</tspan></text>
<text class="s" x="989.2" y="100.8" font-size="12.2" fill="#262626" textLength="278.3" lengthAdjust="spacingAndGlyphs" xml:space="preserve"><tspan>teploty vzduchu (</tspan><tspan font-weight="bold">Tamp</tspan><tspan>) sú zobrazené ako odchýlky</tspan></text>
<text class="s" x="1151.4" y="116.4" font-size="12.2" fill="#262626" textLength="116.1" lengthAdjust="spacingAndGlyphs" xml:space="preserve"><tspan>od DP 1951-2000  [°C]</tspan></text>
<text class="s" x="1002" y="132.3" font-size="12.2" fill="#262626" textLength="265.5" lengthAdjust="spacingAndGlyphs" xml:space="preserve"><tspan>Denný úhrn zrážok a priemerné denné množstvo</tspan></text>
<text class="s" x="1037.6" y="148.3" font-size="12.2" fill="#262626" textLength="229.9" lengthAdjust="spacingAndGlyphs" xml:space="preserve"><tspan>oblačnosti ako percentá DP 1951-2000  [%]</tspan></text>
<text class="b" x="747.6" y="102.9" font-size="21.5" fill="#962d0a" textLength="169.9" lengthAdjust="spacingAndGlyphs">Babie leto 1995</text>
<g class="b" font-size="13.4" fill="#0aa8ec">
<text x="732" y="657.7" textLength="192.9" lengthAdjust="spacingAndGlyphs">Stabilné, cez deň teplé počasie</text>
<text x="698.6" y="675.5" textLength="260.1" lengthAdjust="spacingAndGlyphs">Vysoké denné amplitúdy teploty vzduchu</text>
<text x="708" y="693.6" textLength="240.9" lengthAdjust="spacingAndGlyphs">Slnečno a sucho, výskyt ranných hmiel</text>
</g>
<text class="b" x="845.7" y="809.6" font-size="13" textLength="428.4" lengthAdjust="spacingAndGlyphs"><tspan fill="#0aa8ec">Denný úhrn zrážok a </tspan><tspan fill="#5a1f98">množstvo oblačnosti</tspan><tspan fill="#858585"> v % dlhodobého priemeru</tspan></text>
<rect x="72.6" y="844.3" width="452.7" height="247.6" fill="url(#boxg)" stroke="#3470c8" stroke-width="1.5"/>
<g stroke="#9a9a9a" stroke-width="1" fill="none">
<path d="M59.3 922V1132.6"/>
<path d="M53.2 1132.6H59.3"/>
<path d="M53.2 1097.6H59.3"/>
<path d="M53.2 1062.5H59.3"/>
<path d="M53.2 1027.5H59.3"/>
<path d="M53.2 992.5H59.3"/>
<path d="M53.2 957.4H59.3"/>
<path d="M53.2 922.4H59.3"/>
<path d="M59.3 1132.6H1290"/>
<path d="M59.7 1132.6V1138.6"/>
<path d="M130.2 1132.6V1138.6"/>
<path d="M200.7 1132.6V1138.6"/>
<path d="M271.2 1132.6V1138.6"/>
<path d="M341.7 1132.6V1138.6"/>
<path d="M412.1 1132.6V1138.6"/>
<path d="M482.6 1132.6V1138.6"/>
<path d="M553.1 1132.6V1138.6"/>
<path d="M623.6 1132.6V1138.6"/>
<path d="M694.1 1132.6V1138.6"/>
<path d="M764.6 1132.6V1138.6"/>
<path d="M835.1 1132.6V1138.6"/>
<path d="M905.6 1132.6V1138.6"/>
<path d="M976.1 1132.6V1138.6"/>
<path d="M1046.6 1132.6V1138.6"/>
<path d="M1117 1132.6V1138.6"/>
<path d="M1187.5 1132.6V1138.6"/>
<path d="M1258 1132.6V1138.6"/>
</g>
<g class="s" font-size="16" fill="#1a1a1a" text-anchor="end">
<text x="41" y="1138.6">0</text>
<text x="41" y="1103.6">2</text>
<text x="41" y="1068.5">4</text>
<text x="41" y="1033.5">6</text>
<text x="41" y="998.5">8</text>
<text x="41" y="963.4">10</text>
<text x="41" y="928.4">12</text>
</g>
<path d="M150.7 1123.5h8.2v9.1h-8.2zM543.5 1002.4h8.2v130.2h-8.2zM624 1087.1h8.2v45.5h-8.2zM754.9 976h8.2v156.6h-8.2zM765 1011.1h8.2v121.5h-8.2zM775.1 939.4h8.2v193.2h-8.2zM805.3 1037.9h8.2v94.7h-8.2zM815.4 1005.9h8.2v126.7h-8.2zM825.4 994.3h8.2v138.2h-8.2zM835.5 1101.6h8.2v31h-8.2zM956.3 1089.9h8.2v42.7h-8.2zM976.5 1061.7h8.2v70.9h-8.2zM1268.5 1055.6h8.2v77h-8.2zM1278.6 1081h8.2v51.6h-8.2z" fill="#404040" stroke="#ffffff" stroke-opacity="0.85" stroke-width="1"/>
<g class="b" font-size="17.5" fill="#0d0d0d" text-anchor="end">
<text transform="translate(70.7 1145.5) rotate(-90)">1.8</text>
<text transform="translate(141.2 1145.5) rotate(-90)">8.8</text>
<text transform="translate(211.7 1145.5) rotate(-90)">15.8</text>
<text transform="translate(282.2 1145.5) rotate(-90)">22.8</text>
<text transform="translate(352.7 1145.5) rotate(-90)">29.8</text>
<text transform="translate(423.2 1145.5) rotate(-90)">5.9</text>
<text transform="translate(493.7 1145.5) rotate(-90)">12.9</text>
<text transform="translate(564.2 1145.5) rotate(-90)">19.9</text>
<text transform="translate(634.7 1145.5) rotate(-90)">26.9</text>
<text transform="translate(705.1 1145.5) rotate(-90)">3.10</text>
<text transform="translate(775.6 1145.5) rotate(-90)">10.10</text>
<text transform="translate(846.1 1145.5) rotate(-90)">17.10</text>
<text transform="translate(916.6 1145.5) rotate(-90)">24.10</text>
<text transform="translate(987.1 1145.5) rotate(-90)">31.10</text>
<text transform="translate(1057.6 1145.5) rotate(-90)">7.11</text>
<text transform="translate(1128.1 1145.5) rotate(-90)">14.11</text>
<text transform="translate(1198.6 1145.5) rotate(-90)">21.11</text>
<text transform="translate(1269.1 1145.5) rotate(-90)">28.11</text>
</g>
<text class="b" x="940.1" y="1006.4" font-size="15" fill="#0d0d0d" textLength="173.2" lengthAdjust="spacingAndGlyphs">Trvanie hmly v hodinách</text>
</svg>
<div id="tb">
<div style="letter-spacing:0.014px"><b>Babie leto</b> - obdobia suchého, málo veterného, slnečného a cez deň veľmi teplého počasia,</div>
<div style="letter-spacing:0.021px">ktoré sa vyskytuje v Európe zvyčajne v septembri alebo októbri. Noci už bývajú pomerne</div>
<div style="letter-spacing:0.053px">chladné a vytvárajú sa počas nich radiačne hmly, ktoré sa s postupujúcou jeseňou (v</div>
<div style="letter-spacing:0.045px">dôsledku skracovania dĺžky dňa) udržujú po väčšiu časť dňa. Príčinou babieho leta je</div>
<div style="letter-spacing:0.030px">rozsiahla anticyklóna, ktorá v jesennom období zotrváva nad strednou a juhovýchodnou</div>
<div style="letter-spacing:0.021px">Európou. Trvanie babieho leta v jednotlivých rokoch je veľmi premenlivé: napr. v r. 1959</div>
<div style="letter-spacing:0.080px">trvalo takmer 7 týždňov, kým v niektorých rokoch nie je zreteľné vôbec. Patrí k</div>
<div style="letter-spacing:0.003px">poveternostným singularitám v ročnom priebehu počasia v strednej Európe; podľa H. Flohna</div>
<div style="letter-spacing:0.035px">sa v priemere najčastejšie vyskytuje v období od 21. 9. do 2. 10. Preto je u nás niekedy</div>
<div style="letter-spacing:0.004px">nazývané letom svätého Václava (28. 9.). Obdobie s podobným rázom jesenného počasia má</div>
<div style="letter-spacing:0.064px">v iných krajinách vlastné pomenovanie, napr. vo Francúzsku leto svätého Martina,</div>
<div style="letter-spacing:0.026px">pripadajúce na prvú polovicu novembra, v Anglicku leto svätého Lukáša, vyskytujúce sa</div>
<div style="letter-spacing:0.041px">uprostred októbra, vo Švédsku leto svätej Brigity, a v ČR leto sv. Václava. V Severnej</div>
<div class="l" style="letter-spacing:0.030px">Amerike ide o leto indiánske.</div>
<div style="letter-spacing:0.012px"><b>Neskoré leto</b> – návrat veľmi teplého počasia koncom augusta alebo v septembri spôsobený</div>
<div style="letter-spacing:0.005px">prílevom tropického vzduchu. Pri neskorom lete býva na rozdiel od babieho leta veterno a aj</div>
<div class="l" style="letter-spacing:0.097px">v noci teplo.</div>
</div>
</div></body></html>
